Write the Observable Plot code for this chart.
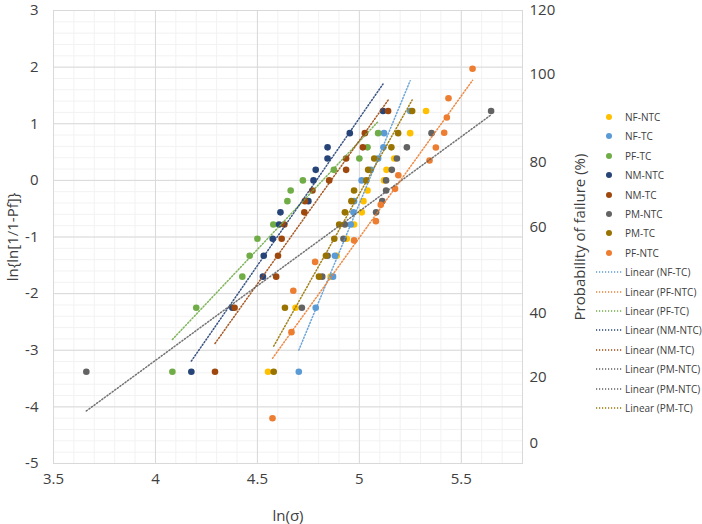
<!DOCTYPE html>
<html>
<head>
<meta charset="utf-8">
<script src="https://cdn.jsdelivr.net/npm/d3@7"></script>
<script src="https://cdn.jsdelivr.net/npm/@observablehq/plot@0.6"></script>
<style>
  body { margin: 0; background: #fff; }
  #wrap { position: relative; width: 702px; height: 524px; font-family: "Open Sans", sans-serif; }
  #legend { position: absolute; left: 0; top: 0; width: 702px; height: 524px; pointer-events: none; }
  .item { position: absolute; left: 594px; height: 14px; display: flex; align-items: center; font-size: 10px; color: #404040; white-space: nowrap; }
  .item svg { margin-right: 3px; }
</style>
</head>
<body>
<div id="wrap"><div id="legend"></div></div>
<script>
// Weibull plot of fracture strength: ln{ln[1/(1-Pf)]} against ln(σ)
const seriesNames = ["NF-NTC", "NF-TC", "PF-TC", "NM-NTC", "NM-TC", "PM-NTC", "PM-TC", "PF-NTC"];
const seriesColors = ["#FFC000", "#5B9BD5", "#70AD47", "#264478", "#9E480E", "#636363", "#997300", "#ED7D31"];

// [ln(σ), ln{ln[1/(1-Pf)]}] per specimen group
const nfNtc = [[4.552,-3.38],[4.687,-2.25],[4.859,-1.70],[4.889,-1.33],[4.938,-1.03],[4.974,-0.78],[5.012,-0.565],[5.02,-0.367],[5.04,-0.18],[5.121,0],[5.133,0.186],[5.171,0.386],[5.249,0.834],[5.327,1.224]];
const nfTc = [[4.703,-3.38],[4.786,-2.25],[4.871,-1.70],[4.88,-1.33],[4.958,-0.78],[4.971,-0.565],[4.974,-0.367],[5.011,0],[5.056,0.186],[5.092,0.386],[5.118,0.583],[5.121,0.834],[5.249,1.224]];
const pfTc = [[4.083,-3.38],[4.2,-2.25],[4.426,-1.70],[4.462,-1.33],[4.5,-1.03],[4.578,-0.78],[4.647,-0.367],[4.663,-0.18],[4.723,0],[4.875,0.186],[5.0,0.386],[5.04,0.583],[5.092,0.834]];
const nmNtc = [[4.176,-3.38],[4.377,-2.25],[4.527,-1.70],[4.531,-1.33],[4.575,-1.03],[4.606,-0.78],[4.613,-0.565],[4.75,-0.367],[4.775,0],[4.786,0.186],[4.844,0.386],[4.844,0.583],[4.953,0.834],[5.116,1.224]];
const nmTc = [[4.292,-3.38],[4.388,-2.25],[4.592,-1.70],[4.601,-1.33],[4.619,-1.03],[4.632,-0.78],[4.73,-0.565],[4.733,-0.367],[4.77,-0.18],[4.852,0],[4.935,0.186],[4.935,0.386],[5.017,0.583],[5.027,0.834],[5.141,1.224]];
const pmNtc = [[3.661,-3.38],[4.718,-2.25],[4.818,-1.70],[4.844,-1.33],[4.922,-1.03],[4.929,-0.78],[5.082,-0.565],[5.112,-0.367],[5.131,-0.18],[5.131,0],[5.159,0.186],[5.184,0.386],[5.233,0.583],[5.354,0.834],[5.646,1.224]];
const pmTc = [[4.58,-3.38],[4.635,-2.25],[4.802,-1.70],[4.836,-1.33],[4.877,-1.03],[4.901,-0.78],[4.929,-0.565],[4.961,-0.367],[4.974,-0.18],[5.034,0],[5.043,0.186],[5.073,0.386],[5.157,0.583],[5.19,0.834],[5.259,1.224]];
const pfNtc = [[4.574,-4.2],[4.667,-2.68],[4.676,-1.95],[4.783,-1.44],[4.974,-1.06],[5.081,-0.72],[5.105,-0.43],[5.175,-0.15],[5.191,0.09],[5.344,0.35],[5.375,0.58],[5.416,0.84],[5.429,1.11],[5.437,1.45],[5.555,1.97]];

// groups that carry a linear trendline, in legend order
const trendSeries = ["NF-TC", "PF-NTC", "PF-TC", "NM-NTC", "NM-TC", "PM-NTC", "PM-NTC", "PM-TC"];

// secondary axis: probability of failure (%) labels and where they sit on the left scale
const probLabels = [0, 20, 40, 60, 80, 100, 120];
const probAt = [-4.65, -3.48, -2.34, -0.82, 0.32, 1.87, 3.0];

const xTicks = [3.5, 4, 4.5, 5, 5.5];
const yTicks = [-5, -4, -3, -2, -1, 0, 1, 2, 3];

const groups = [nfNtc, nfTc, pfTc, nmNtc, nmTc, pmNtc, pmTc, pfNtc];
const points = groups.flatMap((g, i) => g.map(([x, y]) => ({series: seriesNames[i], x, y})));
const trendPoints = points.filter(d => trendSeries.includes(d.series));

const minorX = d3.range(35, 59).map(d => d / 10);
const minorY = d3.range(-25, 16).map(d => d / 5);
const probMap = new Map(probAt.map((p, i) => [p, probLabels[i]]));

const chart = Plot.plot({
  width: 702,
  height: 524,
  marginLeft: 53,
  marginRight: 180,
  marginTop: 10,
  marginBottom: 61,
  style: {fontFamily: "Open Sans, sans-serif", fontSize: "15px", color: "#404040", background: "#fff"},
  x: {domain: [3.5, 5.8]},
  y: {domain: [-5, 3]},
  color: {domain: seriesNames, range: seriesColors},
  marks: [
    Plot.gridX(minorX, {stroke: "#F2F2F2", strokeOpacity: 1}),
    Plot.gridY(minorY, {stroke: "#F2F2F2", strokeOpacity: 1}),
    Plot.gridX(xTicks, {stroke: "#D9D9D9", strokeOpacity: 1}),
    Plot.gridY(yTicks, {stroke: "#D9D9D9", strokeOpacity: 1}),
    Plot.frame({stroke: "#D9D9D9"}),
    Plot.axisX({ticks: xTicks, tickSize: 0, tickPadding: 10, tickFormat: d => String(d),
      label: "ln(σ)", labelAnchor: "center", labelArrow: "none", labelOffset: 57, fontSize: 15}),
    Plot.axisY({ticks: yTicks, tickSize: 0, tickPadding: 15, tickFormat: d => String(d),
      label: "ln{ln[1/1-Pf]}", labelAnchor: "center", labelArrow: "none", labelOffset: 46, fontSize: 15}),
    Plot.axisY({anchor: "right", ticks: probAt, tickSize: 0, tickPadding: 7, tickFormat: d => String(probMap.get(d)),
      label: "Probability of failure (%)", labelAnchor: "center", labelArrow: "none", labelOffset: 62, fontSize: 15}),
    Plot.dot(points, {x: "x", y: "y", fill: "series", r: 3.3}),
    Plot.linearRegressionY(trendPoints, {x: "x", y: "y", stroke: "series", ci: 0,
      strokeWidth: 1.5, strokeDasharray: "1.2 2", strokeOpacity: 0.9})
  ]
});
document.getElementById("wrap").prepend(chart);

// legend: markers, then trendline entries
const legend = d3.select("#legend");
const colorOf = name => seriesColors[seriesNames.indexOf(name)];
const entries = [
  ...seriesNames.map(n => ({kind: "dot", name: n, text: n})),
  ...trendSeries.map(n => ({kind: "line", name: n, text: `Linear (${n})`}))
];
entries.forEach((e, i) => {
  const row = legend.append("div").attr("class", "item").style("top", `${110 + i * 19.4}px`);
  const svg = row.append("svg").attr("width", 28).attr("height", 14);
  if (e.kind === "dot") {
    svg.append("circle").attr("cx", 15).attr("cy", 7).attr("r", 3).attr("fill", colorOf(e.name));
  } else {
    svg.append("line").attr("x1", 2).attr("x2", 28).attr("y1", 7).attr("y2", 7)
      .attr("stroke", colorOf(e.name)).attr("stroke-width", 1.3).attr("stroke-dasharray", "1.2 1.8");
  }
  row.append("span").text(e.text);
});
</script>
</body>
</html>
